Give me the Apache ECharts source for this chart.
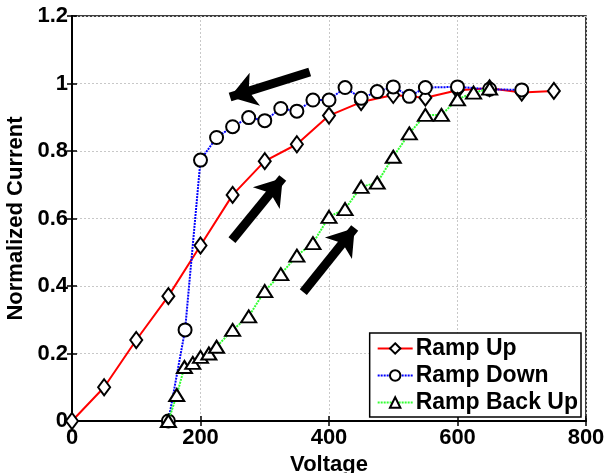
<!DOCTYPE html>
<html><head><meta charset="utf-8">
<script src="https://cdn.jsdelivr.net/npm/echarts@6/dist/echarts.min.js"></script>
<style>html,body{margin:0;padding:0;background:#fff}#c{width:604px;height:473px}</style>
</head><body><div id="c"></div>
<script>
const upX = [0,50,100,150,200,250,300,350,400,450,500,550,600,650,700,750];
const upY = [0,0.10,0.24,0.37,0.52,0.67,0.77,0.82,0.905,0.945,0.966,0.958,0.98,0.986,0.973,0.978];
const downX = [150,176,200,225,250,275,300,325,350,375,400,425,450,475,500,525,550,600,650,700];
const downY = [0,0.27,0.773,0.84,0.872,0.899,0.89,0.926,0.918,0.951,0.951,0.988,0.956,0.976,0.99,0.962,0.988,0.99,0.983,0.981];
const backX = [150,163,175,188,200,213,225,250,275,300,325,350,375,400,425,450,475,500,525,550,575,600,625,650];
const backY = [0,0.077,0.16,0.172,0.19,0.2,0.22,0.27,0.31,0.385,0.435,0.49,0.527,0.605,0.628,0.694,0.706,0.783,0.852,0.907,0.907,0.953,0.973,0.985];
const xTicks = [0,200,400,600,800];
const yTicks = [0,0.2,0.4,0.6,0.8,1,1.2];
const arrowTails = [[370,1.034],[249,0.536],[360,0.382]];
const arrowTips = [[246,0.96],[328,0.72],[440,0.572]];

const pair = (xs, ys) => xs.map((x,i)=>[x, ys[i]]);
const font = 'Arial, "Liberation Sans", sans-serif';
const chart = echarts.init(document.getElementById('c'));
const mk = {color:'#fff', borderColor:'#000', borderWidth:2};
const yFmt = v => { const t = yTicks.find(t=>Math.abs(t-v)<1e-9); return t===undefined?'':String(t); };
const txt = {fontFamily:font,fontWeight:'bold',fontSize:22,color:'#000'};
chart.setOption({
  animation:false,
  grid:{left:72,right:18,top:16,bottom:52,containLabel:false,outerBoundsMode:'none',show:true,borderColor:'#000',borderWidth:1.5},
  xAxis:[{type:'value',min:0,max:800,interval:200,name:'Voltage',nameLocation:'middle',nameGap:25,
    nameTextStyle:txt,
    axisLine:{lineStyle:{color:'#000',width:2}},axisTick:{inside:true,length:5,lineStyle:{color:'#000',width:1.5}},
    axisLabel:Object.assign({margin:6},txt),
    splitLine:{show:true,lineStyle:{color:'#c8c8c8',type:[2,2],width:1}}},
   {type:'value',min:0,max:800,interval:200,position:'top',axisLine:{lineStyle:{color:'#000',width:1.5}},
    axisTick:{inside:true,length:5,lineStyle:{color:'#000',width:1.5}},axisLabel:{show:false},splitLine:{show:false}}],
  yAxis:[{type:'value',min:0,max:1.2,interval:0.2,name:'Normalized Current',nameLocation:'middle',nameGap:38,
    nameTextStyle:txt,
    axisLine:{lineStyle:{color:'#000',width:2}},axisTick:{inside:true,length:5,lineStyle:{color:'#000',width:1.5}},
    axisLabel:Object.assign({margin:4,formatter:yFmt},txt),
    splitLine:{show:true,lineStyle:{color:'#c8c8c8',type:[2,2],width:1}}},
   {type:'value',min:0,max:1.2,interval:0.2,position:'right',axisLine:{lineStyle:{color:'#000',width:1.5}},
    axisTick:{inside:true,length:5,lineStyle:{color:'#000',width:1.5}},axisLabel:{show:false},splitLine:{show:false}}],
  legend:{data:['Ramp Up','Ramp Down','Ramp Back Up'],orient:'vertical',right:23,bottom:56,
    backgroundColor:'#fff',borderColor:'#000',borderWidth:1.5,padding:[4,3,3,7],itemGap:4,
    itemWidth:35,itemHeight:13,
    textStyle:Object.assign({},txt,{fontSize:23,lineHeight:22,padding:[0,0,0,-2]})},
  series:[
    {name:'Ramp Up',type:'line',data:pair(upX,upY),symbol:'diamond',symbolSize:[12,16],
     lineStyle:{color:'#ff0000',width:2},itemStyle:mk,color:'#ff0000',z:3},
    {name:'Ramp Down',type:'line',data:pair(downX,downY),symbol:'circle',symbolSize:13,
     lineStyle:{color:'#0000ff',width:2,type:[2,1]},itemStyle:mk,color:'#0000ff',z:4},
    {name:'Ramp Back Up',type:'line',data:pair(backX,backY),symbol:'triangle',symbolSize:[15,12],
     lineStyle:{color:'#33ff33',width:2,type:[2,1]},itemStyle:mk,color:'#33ff33',z:5},
    {type:'lines',coordinateSystem:'cartesian2d',z:6,
     data:arrowTails.map((t,i)=>({coords:[t,arrowTips[i]]})),
     lineStyle:{color:'#000',width:9,opacity:1,curveness:0},symbol:['none','arrow'],symbolSize:26}
  ]
});
</script></body></html>
